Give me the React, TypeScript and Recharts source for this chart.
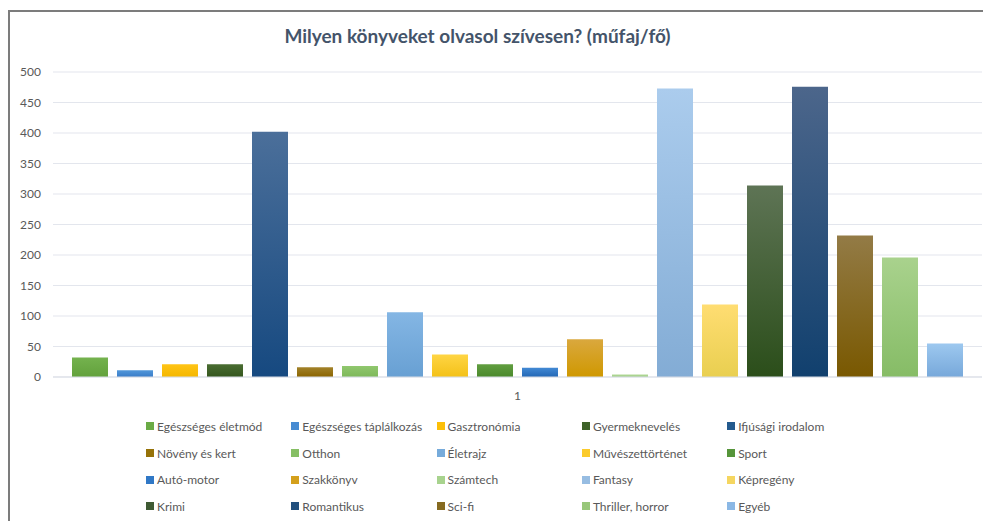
import { BarChart, Bar, XAxis, YAxis, CartesianGrid, Legend } from "recharts";

const categories = ["1"];

const seriesNames = [
  "Egészséges életmód",
  "Egészséges táplálkozás",
  "Gasztronómia",
  "Gyermeknevelés",
  "Ifjúsági irodalom",
  "Növény és kert",
  "Otthon",
  "Életrajz",
  "Művészettörténet",
  "Sport",
  "Autó-motor",
  "Szakkönyv",
  "Számtech",
  "Fantasy",
  "Képregény",
  "Krimi",
  "Romantikus",
  "Sci-fi",
  "Thriller, horror",
  "Egyéb",
];

const seriesValues = [32, 11, 21, 21, 402, 16, 18, 106, 37, 21, 15, 62, 4, 473, 119, 314, 476, 232, 196, 55];

const yTicks = [0, 50, 100, 150, 200, 250, 300, 350, 400, 450, 500];

// gradient top / bottom, plus the flat colour used for the legend swatch
const gradTop = [
  "#74b24e", "#5197da", "#ffc416", "#4a6d32", "#4b6f9a", "#a2822a", "#90c76e", "#84b6e4", "#ffd544", "#619e40",
  "#4289d4", "#daa83e", "#b2d998", "#abcced", "#ffdd72", "#5e7455", "#4c668b", "#937b46", "#a9d28d", "#9dc8ef",
];
const gradBottom = [
  "#62a13c", "#3a7cc8", "#f4b700", "#34561e", "#164980", "#8a6400", "#7db85a", "#68a0d3", "#f3c118", "#4a892c",
  "#2367b5", "#cf9800", "#9ecc84", "#83acd5", "#e9cf50", "#2b4e1a", "#11406e", "#795800", "#86bc66", "#77a8da",
];
const legendColors = [
  "#6aab45", "#478bd2", "#fcbf08", "#3e6228", "#235a8e", "#967208", "#86bf64", "#76abdb", "#fbcb2c", "#56953a",
  "#3078c6", "#d4a01c", "#a8d38e", "#97bde2", "#f5d660", "#3e5a33", "#22507e", "#866a20", "#98c77a", "#8bb8e5",
];

const data = categories.map((c) => {
  const row: Record<string, string | number> = { name: c };
  seriesValues.forEach((v, i) => {
    row[`s${i}`] = v;
  });
  return row;
});

const FONT = "Lato, 'Liberation Sans', sans-serif";

// Excel lays the legend out in fixed columns, in series order
function GridLegend() {
  return (
    <div
      style={{
        height: 114,
        boxSizing: "border-box",
        paddingTop: 6,
        paddingLeft: 136,
        display: "grid",
        gridTemplateColumns: "repeat(5, 145.3px)",
        gridAutoRows: "26.7px",
        fontFamily: FONT,
        fontSize: 12,
        color: "#595959",
      }}
    >
      {seriesNames.map((n, idx) => (
        <div key={n} style={{ display: "flex", alignItems: "center", whiteSpace: "nowrap" }}>
          <span style={{ width: 8, height: 8, background: legendColors[idx], marginRight: 3, flex: "none" }} />
          {n}
        </div>
      ))}
    </div>
  );
}

export default function App() {
  return (
    <div
      style={{
        position: "relative",
        top: 2,
        width: 983,
        height: 511,
        borderTop: "2px solid #7c7c7c",
        borderLeft: "2px solid #7c7c7c",
        background: "#fff",
      }}
    >
      <div
        style={{
          position: "absolute",
          left: 0,
          top: 12,
          width: 935,
          textAlign: "center",
          fontFamily: FONT,
          fontWeight: 700,
          fontSize: 19,
          lineHeight: "24px",
          color: "#44546a",
          zIndex: 2,
        }}
      >
        Milyen könyveket olvasol szívesen? (műfaj/fő)
      </div>
      <BarChart
        width={981}
        height={509}
        data={data}
        margin={{ top: 60, right: 9, bottom: 0, left: 0 }}
        barCategoryGap={19}
        barGap={9}
      >
        <defs>
          {seriesNames.map((_, i) => (
            <linearGradient key={i} id={`g${i}`} x1="0" y1="0" x2="0" y2="1">
              <stop offset="0%" stopColor={gradTop[i]} />
              <stop offset="100%" stopColor={gradBottom[i]} />
            </linearGradient>
          ))}
        </defs>
        <CartesianGrid vertical={false} stroke="#e3e6ed" strokeWidth={1.2} />
        <XAxis
          dataKey="name"
          height={30}
          axisLine={{ stroke: "#d9dde5" }}
          tickLine={false}
          tickMargin={8}
          tick={{ fill: "#595959", fontSize: 12, fontFamily: FONT }}
        />
        <YAxis
          width={43}
          domain={[0, 500]}
          ticks={yTicks}
          axisLine={false}
          tickLine={false}
          tickMargin={6}
          tick={{ fill: "#595959", fontSize: 12, fontFamily: FONT }}
        />
        <Legend verticalAlign="bottom" wrapperStyle={{ left: 0, width: 981 }} content={GridLegend} />
        {seriesNames.map((n, i) => (
          <Bar key={i} dataKey={`s${i}`} name={n} fill={`url(#g${i})`} isAnimationActive={false} />
        ))}
      </BarChart>
    </div>
  );
}
